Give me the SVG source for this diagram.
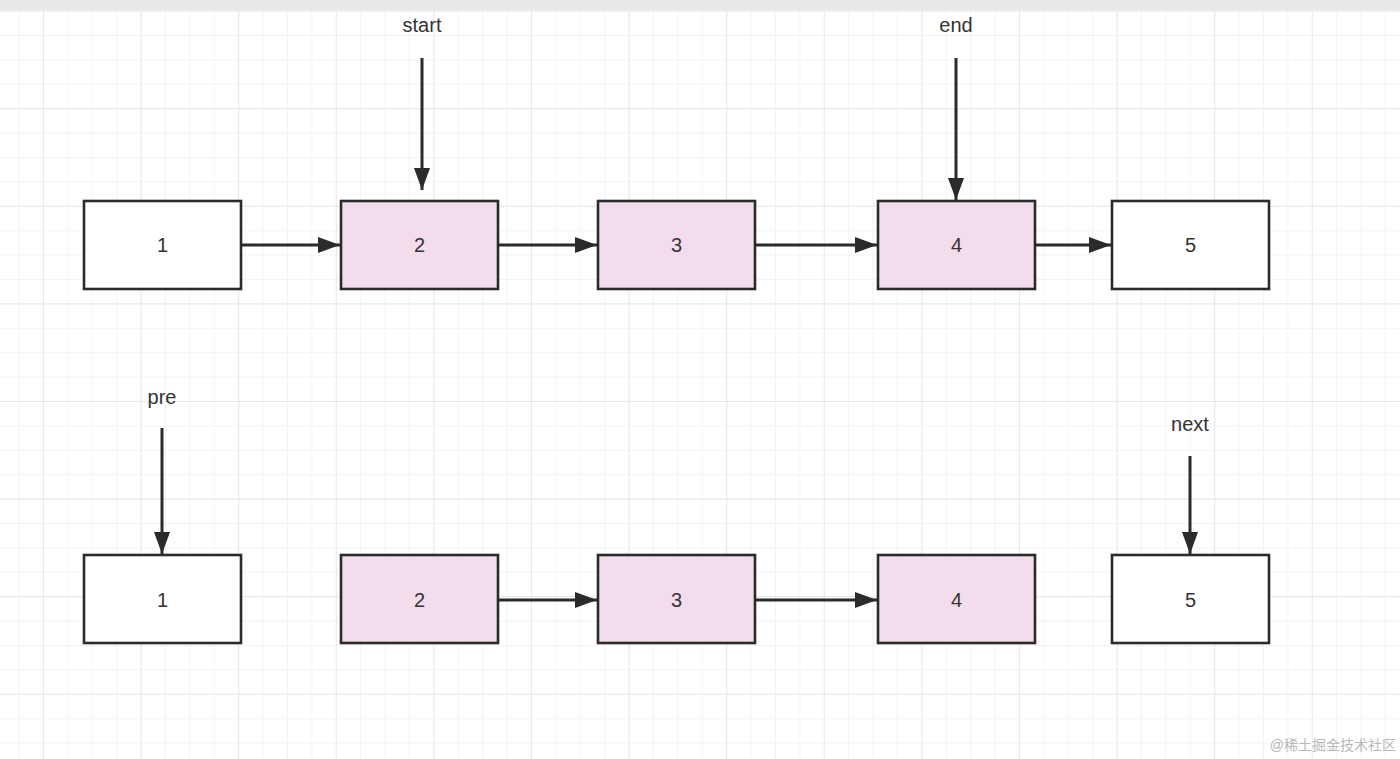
<svg xmlns="http://www.w3.org/2000/svg" width="1400" height="759" viewBox="0 0 1400 759">
<defs>
<pattern id="grid" x="18.6" y="10.6" width="24.4" height="24.4" patternUnits="userSpaceOnUse">
<path d="M0 0H24.4M0 0V24.4" fill="none" stroke="#f0f0f0" stroke-width="1.5"/>
</pattern>
<pattern id="grid4" x="43" y="10.6" width="97.6" height="97.6" patternUnits="userSpaceOnUse">
<path d="M0 0H97.6M0 0V97.6" fill="none" stroke="#e8e8e8" stroke-width="1.8"/>
</pattern>
<marker id="ah" viewBox="0 0 22 16" refX="22" refY="8" markerWidth="22" markerHeight="16" markerUnits="userSpaceOnUse" orient="auto">
<path d="M0 0L22 8L0 16Z" fill="#2b2b2b"/>
</marker>
</defs>
<style>
.box{stroke:#2b2b2b;stroke-width:2.6}
.w{fill:#ffffff}
.p{fill:#f3dcec}
.lbl{font-family:"Liberation Sans",Arial,sans-serif;font-size:20px;fill:#333333;text-anchor:middle;dominant-baseline:central}
.ptr{font-family:"Liberation Sans",Arial,sans-serif;font-size:20px;fill:#333333;text-anchor:middle;dominant-baseline:central}
.c{stroke:#2b2b2b;stroke-width:3;fill:none;marker-end:url(#ah)}
</style>
<rect width="1400" height="759" fill="#ffffff"/>
<rect width="1400" height="759" fill="url(#grid)"/>
<rect width="1400" height="759" fill="url(#grid4)"/>
<rect x="0" y="0" width="1400" height="10" fill="#e8e8ea"/>

<g id="connectors">
<line class="c" x1="241" y1="245" x2="340" y2="245"/>
<line class="c" x1="498" y1="245" x2="597" y2="245"/>
<line class="c" x1="755" y1="245" x2="877" y2="245"/>
<line class="c" x1="1035" y1="245" x2="1111" y2="245"/>
<line class="c" x1="498" y1="600" x2="597" y2="600"/>
<line class="c" x1="755" y1="600" x2="877" y2="600"/>
<line class="c" x1="422" y1="58" x2="422" y2="190"/>
<line class="c" x1="956" y1="58" x2="956" y2="200"/>
<line class="c" x1="162" y1="428" x2="162" y2="554"/>
<line class="c" x1="1190" y1="456" x2="1190" y2="554"/>
</g>

<g id="ptr-start"><text class="ptr" x="422" y="25">start</text></g>
<g id="ptr-end"><text class="ptr" x="956" y="25">end</text></g>
<g id="ptr-pre"><text class="ptr" x="162" y="397">pre</text></g>
<g id="ptr-next"><text class="ptr" x="1190" y="424">next</text></g>

<g id="t1"><rect class="box w" x="84" y="201" width="157" height="88"/><text class="lbl" x="162.5" y="245">1</text></g>
<g id="t2"><rect class="box p" x="341" y="201" width="157" height="88"/><text class="lbl" x="419.5" y="245">2</text></g>
<g id="t3"><rect class="box p" x="598" y="201" width="157" height="88"/><text class="lbl" x="676.5" y="245">3</text></g>
<g id="t4"><rect class="box p" x="878" y="201" width="157" height="88"/><text class="lbl" x="956.5" y="245">4</text></g>
<g id="t5"><rect class="box w" x="1112" y="201" width="157" height="88"/><text class="lbl" x="1190.5" y="245">5</text></g>

<g id="b1"><rect class="box w" x="84" y="555" width="157" height="88"/><text class="lbl" x="162.5" y="600">1</text></g>
<g id="b2"><rect class="box p" x="341" y="555" width="157" height="88"/><text class="lbl" x="419.5" y="600">2</text></g>
<g id="b3"><rect class="box p" x="598" y="555" width="157" height="88"/><text class="lbl" x="676.5" y="600">3</text></g>
<g id="b4"><rect class="box p" x="878" y="555" width="157" height="88"/><text class="lbl" x="956.5" y="600">4</text></g>
<g id="b5"><rect class="box w" x="1112" y="555" width="157" height="88"/><text class="lbl" x="1190.5" y="600">5</text></g>

<text x="1396" y="745" font-family="'Liberation Sans','Noto Sans CJK SC',sans-serif" font-size="14" fill="#b8b8b8" text-anchor="end" dominant-baseline="central">@稀土掘金技术社区</text>
</svg>
